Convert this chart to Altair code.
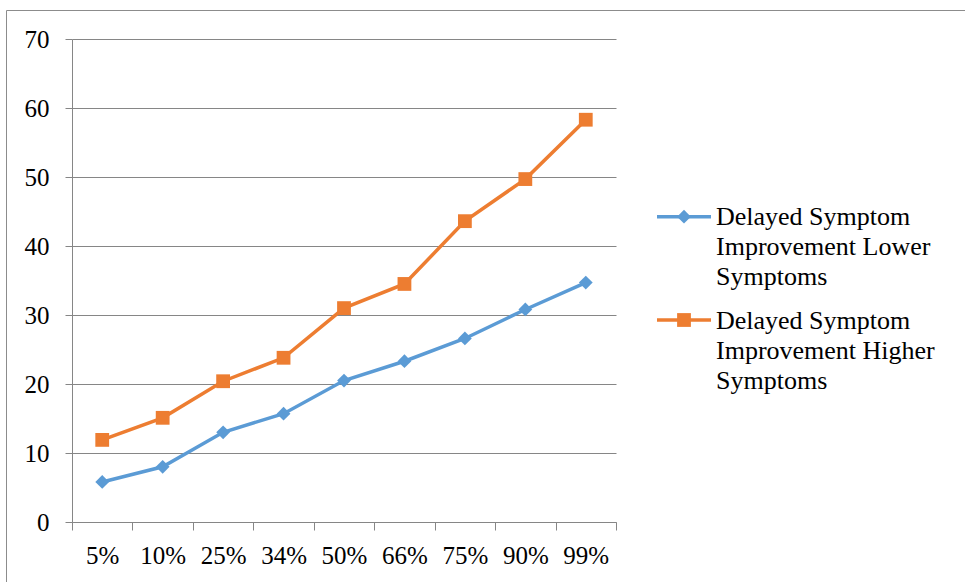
import altair as alt
import pandas as pd

categories = ["5%", "10%", "25%", "34%", "50%", "66%", "75%", "90%", "99%"]
lower = [5.8, 8.0, 13.0, 15.7, 20.5, 23.3, 26.6, 30.8, 34.7]
higher = [11.9, 15.1, 20.4, 23.8, 31.0, 34.5, 43.6, 49.7, 58.3]
series_names = [
    "Delayed Symptom Improvement Lower Symptoms",
    "Delayed Symptom Improvement Higher Symptoms",
]
legend_lines = [
    ["Delayed Symptom", "Improvement Lower", "Symptoms"],
    ["Delayed Symptom", "Improvement Higher", "Symptoms"],
]
colors = ["#5B9BD5", "#ED7D31"]
shapes = ["diamond", "square"]

rows = []
for s, vals in zip(series_names, [lower, higher]):
    for c, v in zip(categories, vals):
        rows.append({"category": c, "value": v, "series": s})
df = pd.DataFrame(rows)

FONT = "Liberation Serif"
GRAY = "#868686"

base = alt.Chart(df).encode(
    x=alt.X(
        "category:O",
        sort=categories,
        scale=alt.Scale(type="band", paddingInner=0, paddingOuter=0),
        axis=alt.Axis(
            title=None, labelAngle=0, tickBand="extent", grid=False,
            domainColor=GRAY, tickColor=GRAY, tickSize=8,
            labelFont=FONT, labelFontSize=25, labelColor="black",
            labelPadding=13, labelBaseline="top",
        ),
    ),
    y=alt.Y(
        "value:Q",
        scale=alt.Scale(domain=[0, 70], nice=False),
        axis=alt.Axis(
            title=None, values=list(range(0, 71, 10)), grid=True,
            gridColor=GRAY, domainColor=GRAY, tickColor=GRAY, tickSize=7,
            labelFont=FONT, labelFontSize=25, labelColor="black",
            labelPadding=16,
        ),
    ),
    color=alt.Color(
        "series:N",
        scale=alt.Scale(domain=series_names, range=colors),
        legend=None,
    ),
)

lines = base.mark_line(strokeWidth=3.5)
points = base.mark_point(filled=True, size=190, opacity=1).encode(
    shape=alt.Shape(
        "series:N",
        scale=alt.Scale(domain=series_names, range=shapes),
        legend=None,
    )
)

one = pd.DataFrame({"k": [0]})
border = alt.Chart(one).mark_rect(
    fillOpacity=0, stroke="#8c8c8c", strokeWidth=1
).encode(
    x=alt.value(-65.5), x2=alt.value(1000),
    y=alt.value(-28.5), y2=alt.value(800),
)

legend_layers = []
legend_y = [177.7, 281.0]
for i in range(len(series_names)):
    ly = legend_y[i]
    legend_layers.append(
        alt.Chart(one).mark_rule(strokeWidth=3.5, color=colors[i]).encode(
            x=alt.value(585), x2=alt.value(639), y=alt.value(ly)
        )
    )
    legend_layers.append(
        alt.Chart(one).mark_point(
            shape=shapes[i], filled=True, size=190, opacity=1, color=colors[i]
        ).encode(x=alt.value(612), y=alt.value(ly))
    )
    legend_layers.append(
        alt.Chart(one).mark_text(
            align="left", baseline="alphabetic", font=FONT, fontSize=26,
            lineHeight=30, color="black",
        ).encode(x=alt.value(644), y=alt.value(ly + 8.5), text=alt.value(legend_lines[i]))
    )

chart = alt.layer(border, lines, points, *legend_layers).properties(
    width=544,
    height=483,
    padding={"left": 72, "top": 39, "right": 349, "bottom": 60},
    autosize=alt.AutoSizeParams(type="none"),
    background="white",
).configure_view(stroke=None)

chart.save("out.html", embed_options={"renderer": "svg", "actions": False})
